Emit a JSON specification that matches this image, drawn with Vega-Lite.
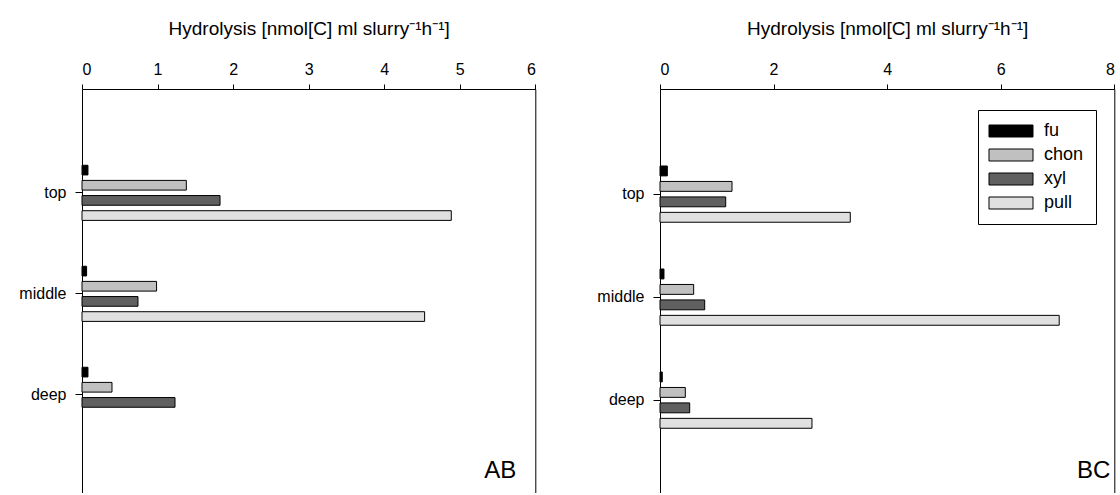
{
  "$schema": "https://vega.github.io/schema/vega-lite/v6.json",
  "padding": {"left": 18, "top": 19, "right": 0, "bottom": 0},
  "background": "white",
  "config": {
    "font": "Liberation Sans",
    "view": {"stroke": null},
    "axis": {
      "domainColor": "black", "tickColor": "black", "labelColor": "black", "titleColor": "black",
      "domainWidth": 1, "tickWidth": 1, "grid": false,
      "labelFontSize": 16, "titleFontSize": 19, "titleFontWeight": "normal"
    },
    "title": {"fontWeight": "normal", "color": "black"}
  },
  "data": {"values": [
    {"site": "AB", "depth": "top", "enzyme": "fu", "value": 0.079},
    {"site": "AB", "depth": "top", "enzyme": "chon", "value": 1.381},
    {"site": "AB", "depth": "top", "enzyme": "xyl", "value": 1.827},
    {"site": "AB", "depth": "top", "enzyme": "pull", "value": 4.888},
    {"site": "AB", "depth": "middle", "enzyme": "fu", "value": 0.061},
    {"site": "AB", "depth": "middle", "enzyme": "chon", "value": 0.987},
    {"site": "AB", "depth": "middle", "enzyme": "xyl", "value": 0.741},
    {"site": "AB", "depth": "middle", "enzyme": "pull", "value": 4.535},
    {"site": "AB", "depth": "deep", "enzyme": "fu", "value": 0.079},
    {"site": "AB", "depth": "deep", "enzyme": "chon", "value": 0.397},
    {"site": "AB", "depth": "deep", "enzyme": "xyl", "value": 1.231},
    {"site": "BC", "depth": "top", "enzyme": "fu", "value": 0.129},
    {"site": "BC", "depth": "top", "enzyme": "chon", "value": 1.268},
    {"site": "BC", "depth": "top", "enzyme": "xyl", "value": 1.157},
    {"site": "BC", "depth": "top", "enzyme": "pull", "value": 3.351},
    {"site": "BC", "depth": "middle", "enzyme": "fu", "value": 0.07},
    {"site": "BC", "depth": "middle", "enzyme": "chon", "value": 0.593},
    {"site": "BC", "depth": "middle", "enzyme": "xyl", "value": 0.787},
    {"site": "BC", "depth": "middle", "enzyme": "pull", "value": 7.03},
    {"site": "BC", "depth": "deep", "enzyme": "fu", "value": 0.04},
    {"site": "BC", "depth": "deep", "enzyme": "chon", "value": 0.446},
    {"site": "BC", "depth": "deep", "enzyme": "xyl", "value": 0.523},
    {"site": "BC", "depth": "deep", "enzyme": "pull", "value": 2.676}
  ]},
  "spacing": 124,
  "bounds": "flush",
  "resolve": {"scale": {"color": "independent", "x": "independent", "y": "independent", "yOffset": "independent"}},
  "hconcat": [
    {
      "width": 453.3,
      "height": 404,
      "title": {"text": "AB", "orient": "bottom", "anchor": "end", "frame": "group", "offset": -34, "fontSize": 24, "dx": -19},
      "transform": [{"filter": "datum.site === 'AB'"}],
      "layer": [
        {
          "mark": {"type": "bar", "stroke": "black", "strokeWidth": 1},
          "encoding": {
            "y": {"field": "depth", "type": "nominal", "sort": ["top", "middle", "deep"],
                  "scale": {"domain": ["top", "middle", "deep"], "paddingInner": 0.4, "paddingOuter": 0.7, "align": 0.52},
                  "axis": {"orient": "left", "title": null, "tickSize": 7, "labelPadding": 9}},
            "yOffset": {"field": "enzyme", "type": "nominal", "sort": ["fu", "chon", "xyl", "pull"],
                        "scale": {"domain": ["fu", "chon", "xyl", "pull"], "paddingInner": 0.36, "paddingOuter": 0.18}},
            "x": {"field": "value", "type": "quantitative",
                  "scale": {"domain": [0, 6], "nice": false},
                  "axis": {"orient": "top", "values": [0, 1, 2, 3, 4, 5, 6], "format": "d", "tickSize": 5, "labelPadding": 7,
                           "title": "Hydrolysis [nmol[C] ml slurry⁻¹h⁻¹]", "titlePadding": 23}},
            "color": {"field": "enzyme", "type": "nominal",
                      "scale": {"domain": ["fu", "chon", "xyl", "pull"], "range": ["#000000", "#c0c0c0", "#606060", "#e0e0e0"]},
                      "legend": null}
          }
        },
        {
          "mark": {"type": "bar", "opacity": 0},
          "encoding": {
            "y": {"field": "depth", "type": "nominal", "sort": ["top", "middle", "deep"],
                  "axis": {"orient": "right", "labels": false, "ticks": false, "title": null, "domain": true}},
            "x": {"field": "value", "type": "quantitative"}
          }
        }
      ],
      "resolve": {"axis": {"y": "independent"}}
    },
    {
      "width": 454.3,
      "height": 404,
      "title": {"text": "BC", "orient": "bottom", "anchor": "end", "frame": "group", "offset": -34, "fontSize": 24, "dx": -4},
      "transform": [{"filter": "datum.site === 'BC'"}],
      "layer": [
        {
          "mark": {"type": "bar", "stroke": "black", "strokeWidth": 1},
          "encoding": {
            "y": {"field": "depth", "type": "nominal", "sort": ["top", "middle", "deep"],
                  "scale": {"domain": ["top", "middle", "deep"], "paddingInner": 0.4, "paddingOuter": 0.661, "align": 0.545},
                  "axis": {"orient": "left", "title": null, "tickSize": 7, "labelPadding": 9}},
            "yOffset": {"field": "enzyme", "type": "nominal", "sort": ["fu", "chon", "xyl", "pull"],
                        "scale": {"domain": ["fu", "chon", "xyl", "pull"], "paddingInner": 0.36, "paddingOuter": 0.18}},
            "x": {"field": "value", "type": "quantitative",
                  "scale": {"domain": [0, 8], "nice": false},
                  "axis": {"orient": "top", "values": [0, 2, 4, 6, 8], "format": "d", "tickSize": 5, "labelPadding": 7,
                           "title": "Hydrolysis [nmol[C] ml slurry⁻¹h⁻¹]", "titlePadding": 23}},
            "color": {"field": "enzyme", "type": "nominal",
                      "scale": {"domain": ["fu", "chon", "xyl", "pull"], "range": ["#000000", "#c0c0c0", "#606060", "#e0e0e0"]},
                      "legend": {"orient": "none", "legendX": 318, "legendY": 21, "title": null,
                                 "strokeColor": "black", "fillColor": "white", "padding": 12,
                                 "symbolType": "M-3.667,-1H3.667V1H-3.667Z", "symbolSize": 144,
                                 "symbolStrokeColor": "black", "symbolStrokeWidth": 1, "symbolOffset": 12,
                                 "labelFontSize": 18, "labelOffset": 24, "labelColor": "black", "rowPadding": 6}}
          }
        },
        {
          "mark": {"type": "bar", "opacity": 0},
          "encoding": {
            "y": {"field": "depth", "type": "nominal", "sort": ["top", "middle", "deep"],
                  "axis": {"orient": "right", "labels": false, "ticks": false, "title": null, "domain": true}},
            "x": {"field": "value", "type": "quantitative"}
          }
        }
      ],
      "resolve": {"axis": {"y": "independent"}}
    }
  ]
}
